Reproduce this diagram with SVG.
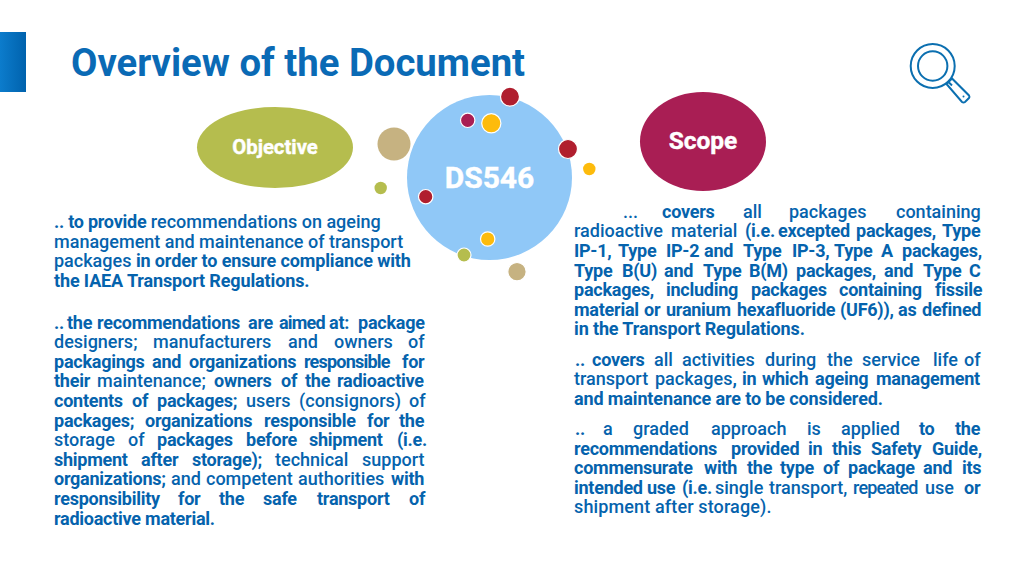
<svg xmlns="http://www.w3.org/2000/svg" width="1024" height="576" viewBox="0 0 1024 576">
<style>
.t{font-family:Roboto,"Liberation Sans",sans-serif;font-size:18px;font-weight:500;fill:#0563ad}
.b{font-weight:700;letter-spacing:-.25px}
.w{letter-spacing:-.13px}
.s{letter-spacing:-.8px}
.c{stroke:#fff;stroke-width:1.2}
.r{fill:#b01e2e}.y{fill:#fdbb0c}.o{fill:#b5bd4e}.n{fill:#c6b281}
.lbl{font-family:Roboto,"Liberation Sans",sans-serif;font-weight:700;fill:#fff;stroke:#fff;stroke-width:.4;text-anchor:middle}
.i{fill:none;stroke:#0b6fb0;stroke-width:2}
</style>
<defs><linearGradient id="g" x1="0" x2="1"><stop offset="0" stop-color="#0c7ccc"/><stop offset="1" stop-color="#0062ad"/></linearGradient></defs>
<rect width="1024" height="576" fill="#fff"/>
<rect x="0" y="32" width="26" height="60" fill="url(#g)"/>
<text x="71" y="75.500" font-family="Roboto,'Liberation Sans',sans-serif" font-weight="700" font-size="38.3" fill="#0a6ab5">Overview of the Document</text>
<g id="icon">
<circle class="i" cx="932.7" cy="66" r="22"/><circle class="i" cx="932.7" cy="66" r="14.7"/>
<path class="i" d="M948 81.5L952 85.5M946.500 84L952 78.500L969 95.500Q970 97 969 98L965 102Q963.500 103 962 102Z"/>
<circle cx="963.500" cy="96.500" r="1" fill="#0b6fb0"/>
</g>
<g id="objective"><ellipse cx="275" cy="147.500" rx="78" ry="40.500" fill="#b5bd4e"/><text class="lbl" x="275" y="154" font-size="20.300">Objective</text></g>
<g id="scope"><ellipse cx="703" cy="141.500" rx="63" ry="49.500" fill="#a91e54"/><text class="lbl" x="703" y="149" font-size="24.500">Scope</text></g>
<g id="ds546"><circle cx="489.500" cy="177.500" r="82.500" fill="#90c8f7"/><text class="lbl" x="489.500" y="187.500" font-size="30">DS546</text></g>
<g id="dots">
<circle class="n" cx="394" cy="144" r="16.500"/>
<circle class="o" cx="380.700" cy="188" r="6.200"/>
<circle class="y" cx="589.300" cy="169" r="6.200"/>
<circle class="n c" cx="517" cy="271.700" r="9.200"/>
<circle class="r c" cx="510" cy="96.700" r="9.500"/>
<circle class="c" fill="#a91e54" cx="467.700" cy="120.300" r="7.200"/>
<circle class="y c" cx="491.300" cy="123.300" r="9.600"/>
<circle class="r c" cx="568" cy="149" r="9.500"/>
<circle class="r c" cx="425.700" cy="196.700" r="7.200"/>
<circle class="y c" cx="487.700" cy="239" r="7.200"/>
<circle class="o c" cx="464" cy="255" r="7"/>
</g>
<g id="text-left">
<text class="t" x="54" y="228"><tspan class="b">.. to provide</tspan> recommendations on ageing</text>
<text class="t" x="54" y="247.500">management and maintenance of transport</text>
<text class="t" x="54" y="267">packages <tspan class="b w">in order to ensure compliance with</tspan></text>
<text class="t b w" x="54" y="286.600">the IAEA Transport Regulations.</text>
<text class="t b" y="328.500"><tspan x="54">.. </tspan><tspan x="67">the </tspan><tspan x="97">recommendations </tspan><tspan x="248">are </tspan><tspan class="s" x="279">aimed </tspan><tspan x="329">at: </tspan><tspan x="358">package</tspan></text>
<text class="t" y="348"><tspan x="54">designers; </tspan><tspan x="153">manufacturers </tspan><tspan x="288">and </tspan><tspan x="334">owners </tspan><tspan x="408">of</tspan></text>
<text class="t b" y="367.700"><tspan x="54">packagings </tspan><tspan x="152">and </tspan><tspan x="189">organizations </tspan><tspan class="s" x="304">responsible </tspan><tspan x="402">for</tspan></text>
<text class="t" y="387.300"><tspan class="b" x="54">their </tspan><tspan x="97">maintenance; </tspan><tspan class="b" x="214">owners </tspan><tspan class="b" x="281">of </tspan><tspan class="b" x="305">the </tspan><tspan class="b" x="337">radioactive</tspan></text>
<text class="t" y="407"><tspan class="b" x="54">contents </tspan><tspan class="b" x="132">of </tspan><tspan class="b" x="157">packages; </tspan><tspan x="246">users </tspan><tspan x="299">(consignors) </tspan><tspan x="409">of</tspan></text>
<text class="t b" y="426.600"><tspan x="54">packages; </tspan><tspan x="145">organizations </tspan><tspan x="264">responsible </tspan><tspan x="367">for </tspan><tspan x="399">the</tspan></text>
<text class="t" y="446"><tspan x="54">storage </tspan><tspan x="128">of </tspan><tspan class="b" x="157">packages </tspan><tspan class="b" x="246">before </tspan><tspan class="b" x="309">shipment </tspan><tspan class="b" x="397">(i.e.</tspan></text>
<text class="t" y="465.700"><tspan class="b" x="54">shipment </tspan><tspan class="b" x="141">after </tspan><tspan class="b" x="192">storage); </tspan><tspan x="275">technical </tspan><tspan x="362">support</tspan></text>
<text class="t" y="485.300"><tspan class="b" x="54">organizations; </tspan><tspan x="171">and </tspan><tspan x="206">competent </tspan><tspan x="298">authorities </tspan><tspan class="b" x="391">with</tspan></text>
<text class="t b" y="505"><tspan x="54">responsibility </tspan><tspan x="178">for </tspan><tspan x="219">the </tspan><tspan x="263">safe </tspan><tspan x="317">transport </tspan><tspan x="409">of</tspan></text>
<text class="t b" x="54" y="524.500">radioactive material.</text>
</g>
<g id="text-right">
<text class="t" y="217.700"><tspan x="623">... </tspan><tspan class="b" x="662">covers </tspan><tspan x="743">all </tspan><tspan x="789">packages </tspan><tspan x="896">containing</tspan></text>
<text class="t" y="237.300"><tspan x="574">radioactive </tspan><tspan x="671">material </tspan><tspan class="b" x="745">(i.e. </tspan><tspan class="b" x="778">excepted </tspan><tspan class="b" x="856">packages, </tspan><tspan class="b" x="942">Type</tspan></text>
<text class="t b" y="256.900"><tspan x="574">IP-1, </tspan><tspan x="618">Type </tspan><tspan x="666">IP-2 </tspan><tspan x="704">and </tspan><tspan x="743">Type </tspan><tspan x="792">IP-3, </tspan><tspan x="834">Type </tspan><tspan x="881">A </tspan><tspan x="902">packages,</tspan></text>
<text class="t b" y="276.500"><tspan x="574">Type </tspan><tspan x="622">B(U) </tspan><tspan x="664">and </tspan><tspan x="703">Type </tspan><tspan x="749">B(M) </tspan><tspan x="796">packages, </tspan><tspan x="884">and </tspan><tspan x="923">Type </tspan><tspan x="969">C</tspan></text>
<text class="t b" y="296"><tspan x="574">packages, </tspan><tspan x="666">including </tspan><tspan x="751">packages </tspan><tspan x="839">containing </tspan><tspan x="935">fissile</tspan></text>
<text class="t b" y="315.700"><tspan x="574">material </tspan><tspan x="644">or </tspan><tspan x="666">uranium </tspan><tspan x="737">hexafluoride </tspan><tspan x="840">(UF6)), </tspan><tspan x="898">as </tspan><tspan x="922">defined</tspan></text>
<text class="t b w" x="574" y="335.300">in the Transport Regulations.</text>
<text class="t" y="365.700"><tspan class="b" x="575">.. </tspan><tspan class="b" x="592">covers </tspan><tspan x="654">all </tspan><tspan x="682">activities </tspan><tspan x="765">during </tspan><tspan x="827">the </tspan><tspan x="862">service </tspan><tspan x="933">life </tspan><tspan x="964">of</tspan></text>
<text class="t" y="385.300"><tspan x="574">transport </tspan><tspan x="655">packages</tspan><tspan class="b">, </tspan><tspan class="b" x="742">in </tspan><tspan class="b" x="762">which </tspan><tspan class="b" x="815">ageing </tspan><tspan class="b" x="876">management</tspan></text>
<text class="t b w" x="574" y="404.900">and maintenance are to be considered.</text>
<text class="t" y="435"><tspan class="b" x="575">.. </tspan><tspan x="603">a </tspan><tspan x="633">graded </tspan><tspan x="711">approach </tspan><tspan x="807">is </tspan><tspan x="841">applied </tspan><tspan class="b" x="919">to </tspan><tspan class="b" x="955">the</tspan></text>
<text class="t b" y="454.600"><tspan x="574">recommendations </tspan><tspan x="731">provided </tspan><tspan x="808">in </tspan><tspan x="832">this </tspan><tspan x="871">Safety </tspan><tspan x="932">Guide,</tspan></text>
<text class="t b" y="474.200"><tspan x="574">commensurate </tspan><tspan x="704">with </tspan><tspan x="747">the </tspan><tspan x="780">type </tspan><tspan x="823">of </tspan><tspan x="848">package </tspan><tspan x="923">and </tspan><tspan x="962">its</tspan></text>
<text class="t" y="493.800"><tspan class="b" x="574">intended use </tspan><tspan class="b" x="682">(i.e. </tspan><tspan x="715">single </tspan><tspan x="769">transport, </tspan><tspan class="s" x="853">repeated </tspan><tspan x="925">use </tspan><tspan class="b" x="964">or</tspan></text>
<text class="t" x="574" y="513.400" letter-spacing=".13">shipment after storage).</text>
</g>
</svg>
